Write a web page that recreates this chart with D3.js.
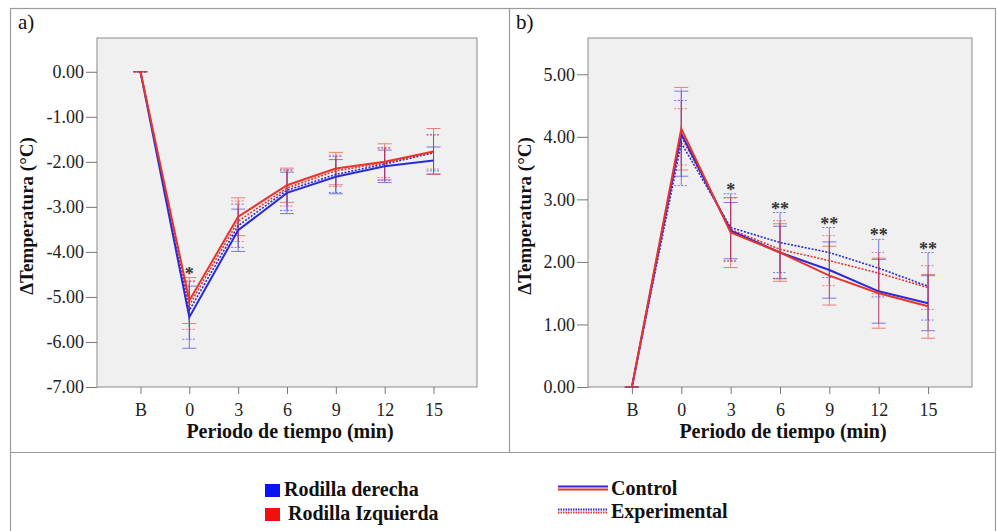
<!DOCTYPE html>
<html><head><meta charset="utf-8">
<script src="https://cdn.jsdelivr.net/npm/d3@7"></script>
<style>
body{margin:0;background:#fff;}
svg text{font-family:"Liberation Serif","Times New Roman","DejaVu Serif",serif !important;}
</style></head>
<body><svg id="c" width="997" height="531"></svg>
<script>
// ---------- DATA ----------
const categories = ["B","0","3","6","9","12","15"];
// Panel a) ΔTemperatura (°C): means and error half-widths
const a_ctrl_der = [0, -5.45, -3.52, -2.69, -2.33, -2.10, -1.97];
const a_ctrl_izq = [0, -5.08, -3.22, -2.52, -2.15, -2.00, -1.77];
const a_exp_der  = [0, -5.30, -3.42, -2.63, -2.28, -2.05, -1.80];
const a_exp_izq  = [0, -5.18, -3.32, -2.58, -2.20, -2.02, -1.78];
const a_err_ctrl_der = [0, 0.69, 0.47, 0.46, 0.38, 0.36, 0.30];
const a_err_ctrl_izq = [0, 0.51, 0.42, 0.38, 0.36, 0.40, 0.51];
const a_err_exp_der  = [0, 0.64, 0.48, 0.45, 0.40, 0.36, 0.40];
const a_err_exp_izq  = [0, 0.54, 0.45, 0.40, 0.35, 0.33, 0.38];
const a_ticks = [0, -1, -2, -3, -4, -5, -6, -7];
const a_stars = ["", "*", "", "", "", "", ""];
// Panel b)
const b_ctrl_der = [0, 4.05, 2.50, 2.15, 1.87, 1.53, 1.34];
const b_ctrl_izq = [0, 4.13, 2.47, 2.15, 1.78, 1.50, 1.29];
const b_exp_der  = [0, 3.90, 2.55, 2.31, 2.15, 1.90, 1.61];
const b_exp_izq  = [0, 4.00, 2.52, 2.20, 2.02, 1.82, 1.59];
const b_err_ctrl_der = [0, 0.68, 0.45, 0.42, 0.45, 0.51, 0.44];
const b_err_ctrl_izq = [0, 0.66, 0.56, 0.46, 0.47, 0.56, 0.51];
const b_err_exp_der  = [0, 0.68, 0.54, 0.48, 0.40, 0.46, 0.54];
const b_err_exp_izq  = [0, 0.45, 0.50, 0.46, 0.40, 0.33, 0.35];
const b_ticks = [0, 1, 2, 3, 4, 5];
const b_stars = ["", "", "*", "**", "**", "**", "**"];

const BLUE = "#2b2bd6", RED = "#e8342c";
const FONT = "'Liberation Serif','Times New Roman','DejaVu Serif',serif";

const svg = d3.select("#c").style("font-family", FONT);

// ---------- FRAME ----------
const frame = svg.append("g").attr("fill","none").attr("stroke","#9a9a9a").attr("stroke-width",1.2);
frame.append("rect").attr("x",10.5).attr("y",8.5).attr("width",985).attr("height",530);
frame.append("line").attr("x1",509.5).attr("x2",509.5).attr("y1",8.5).attr("y2",452.5);
frame.append("line").attr("x1",10.5).attr("x2",995.5).attr("y1",452.5).attr("y2",452.5);

function txt(sel){ return sel.style("font-family", FONT); }

function panel(opt){
  const g = svg.append("g");
  const x = d3.scalePoint().domain(categories).range([opt.x0, opt.x1]).padding(0.89);
  const y = d3.scaleLinear().domain(opt.ydom).range([387, 38]);
  g.append("rect").attr("x",opt.x0).attr("y",38).attr("width",opt.x1-opt.x0).attr("height",349)
    .attr("fill","#f0f0f0").attr("stroke","#8a8a8a").attr("stroke-width",1);

  // axes
  const ya = g.append("g").attr("transform",`translate(${opt.x0},0)`)
    .call(d3.axisLeft(y).tickValues(opt.ticks).tickFormat(d => d.toFixed(2)).tickSize(11).tickSizeOuter(0).tickPadding(2));
  ya.attr("font-family", null);
  ya.select(".domain").remove();
  ya.selectAll("line").attr("stroke","#777");
  txt(ya.selectAll("text").attr("font-size",18).attr("fill","#222"));
  const xa = g.append("g").attr("transform",`translate(0,387)`)
    .call(d3.axisBottom(x).tickSize(7).tickSizeOuter(0).tickPadding(9));
  xa.attr("font-family", null);
  xa.select(".domain").remove();
  xa.selectAll("line").attr("stroke","#777");
  txt(xa.selectAll("text").attr("font-size",18).attr("fill","#222"));

  // titles
  txt(g.append("text").attr("x",(opt.x0+opt.x1)/2 + 3).attr("y",438).attr("text-anchor","middle")
    .attr("font-size",20).attr("font-weight","bold").attr("fill","#111").text("Periodo de tiempo (min)"));
  txt(g.append("text").attr("transform",`translate(${opt.ytx},216) rotate(-90)`).attr("text-anchor","middle")
    .attr("font-size",19).attr("font-weight","bold").attr("fill","#111").text("ΔTemperatura (°C)"));
  txt(g.append("text").attr("x",opt.lx).attr("y",29).attr("font-size",21).attr("fill","#111").text(opt.label));

  // error bars
  opt.series.forEach(s=>{
    const eg = g.append("g").attr("stroke",s.color).attr("stroke-width",1).attr("opacity",0.6);
    categories.forEach((c,i)=>{
      const cx = x(c), lo = y(s.v[i]-s.e[i]), hi = y(s.v[i]+s.e[i]);
      eg.append("line").attr("x1",cx).attr("x2",cx).attr("y1",lo).attr("y2",hi);
      eg.append("line").attr("x1",cx-7).attr("x2",cx+7).attr("y1",lo).attr("y2",lo).attr("stroke-dasharray",s.dash||null);
      eg.append("line").attr("x1",cx-7).attr("x2",cx+7).attr("y1",hi).attr("y2",hi).attr("stroke-dasharray",s.dash||null);
    });
  });
  // lines
  const line = d3.line().x((d,i)=>x(categories[i])).y(d=>y(d));
  opt.series.forEach(s=>{
    g.append("path").datum(s.v).attr("d",line).attr("fill","none").attr("stroke",s.color)
      .attr("stroke-width",s.dash?1.6:2).attr("stroke-dasharray",s.dash||null);
  });
  // stars
  categories.forEach((c,i)=>{
    if(!opt.stars[i]) return;
    const top = d3.max(opt.series, s=>s.v[i]+s.e[i]);
    txt(g.append("text").attr("x",x(c)).attr("y",y(top)+2).attr("text-anchor","middle")
      .attr("font-size",18).attr("font-weight","bold").attr("fill","#333").text(opt.stars[i]));
  });
}

panel({x0:97, x1:477, ydom:[-7,0.75], ticks:a_ticks, ytx:33, lx:18, label:"a)", stars:a_stars,
  series:[
    {v:a_exp_der, e:a_err_exp_der, color:BLUE, dash:"2,1.5"},
    {v:a_exp_izq, e:a_err_exp_izq, color:RED, dash:"2,1.5"},
    {v:a_ctrl_der, e:a_err_ctrl_der, color:BLUE},
    {v:a_ctrl_izq, e:a_err_ctrl_izq, color:RED}
  ]});
panel({x0:588, x1:972, ydom:[0,5.58], ticks:b_ticks, ytx:531, lx:516, label:"b)", stars:b_stars,
  series:[
    {v:b_exp_der, e:b_err_exp_der, color:BLUE, dash:"2,1.5"},
    {v:b_exp_izq, e:b_err_exp_izq, color:RED, dash:"2,1.5"},
    {v:b_ctrl_der, e:b_err_ctrl_der, color:BLUE},
    {v:b_ctrl_izq, e:b_err_ctrl_izq, color:RED}
  ]});

// ---------- LEGEND ----------
const lg = svg.append("g");
const swatches = [{label:"Rodilla derecha", color:"#0a14f0", y:484, tx:284},{label:"Rodilla Izquierda", color:"#f01010", y:508, tx:288}];
swatches.forEach(s=>{
  lg.append("rect").attr("x",265).attr("y",s.y).attr("width",15).attr("height",13).attr("fill",s.color);
  txt(lg.append("text").attr("x",s.tx).attr("y",s.y+12).attr("font-size",20).attr("font-weight","bold").attr("fill","#111").text(s.label));
});
const lineKeys = [{label:"Control", dash:null, y:488},{label:"Experimental", dash:"1.5,1", y:511}];
lineKeys.forEach(k=>{
  lg.append("line").attr("x1",558).attr("x2",608).attr("y1",k.y-1.5).attr("y2",k.y-1.5).attr("stroke",BLUE).attr("stroke-width",2).attr("stroke-dasharray",k.dash);
  lg.append("line").attr("x1",558).attr("x2",608).attr("y1",k.y+1.5).attr("y2",k.y+1.5).attr("stroke",RED).attr("stroke-width",2).attr("stroke-dasharray",k.dash);
  txt(lg.append("text").attr("x",611).attr("y",k.y+7).attr("font-size",20).attr("font-weight","bold").attr("fill","#111").text(k.label));
});
</script></body></html>
